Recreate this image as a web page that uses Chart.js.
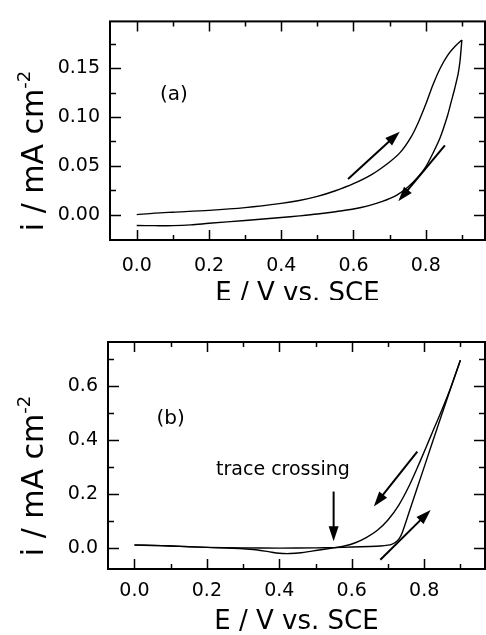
<!DOCTYPE html>
<html>
<head>
<meta charset="utf-8">
<script src="https://cdn.jsdelivr.net/npm/chart.js@4.4.1/dist/chart.umd.min.js"></script>
<style>
  html, body { margin: 0; padding: 0; background: #fff; }
  #wrapA { position: absolute; left: 0; top: 0; width: 486px; height: 300px; }
  #wrapB { position: absolute; left: 0; top: 310px; width: 486px; height: 325px; }
</style>
</head>
<body>
<div id="wrapA"><canvas id="cvA"></canvas></div>
<div id="wrapB"><canvas id="cvB"></canvas></div>
<script>
// ---- Panel (a): cyclic voltammogram, E in V vs. SCE, i in mA cm^-2 ----
const aForwardE = [0, 0.05, 0.1, 0.2, 0.3, 0.4, 0.45, 0.5, 0.55, 0.6, 0.65, 0.7, 0.73, 0.76, 0.78, 0.8, 0.82, 0.84, 0.86, 0.88, 0.9];
const aForwardI = [0, 0.0015, 0.0025, 0.0044, 0.0072, 0.0115, 0.0145, 0.0187, 0.0245, 0.0317, 0.041, 0.054, 0.064, 0.08, 0.095, 0.113, 0.133, 0.150, 0.163, 0.172, 0.179];
const aReverseE = [0.9, 0.895, 0.89, 0.88, 0.87, 0.86, 0.84, 0.82, 0.8, 0.78, 0.75, 0.72, 0.68, 0.64, 0.6, 0.55, 0.5, 0.45, 0.4, 0.3, 0.2, 0.15, 0.1, 0.05, 0];
const aReverseI = [0.179, 0.158, 0.145, 0.129, 0.115, 0.101, 0.079, 0.063, 0.049, 0.039, 0.028, 0.020, 0.0135, 0.009, 0.0058, 0.003, 0.0006, -0.0013, -0.003, -0.006, -0.0089, -0.0105, -0.0113, -0.0113, -0.0112];
// scan-direction arrows: [E start, i start, E end, i end]
const aArrows = [[0.585, 0.0366, 0.728, 0.085], [0.853, 0.071, 0.724, 0.0136]];
const aXTicks = [0.0, 0.2, 0.4, 0.6, 0.8];
const aXMinor = [0.1, 0.3, 0.5, 0.7, 0.9];
const aYTicks = [0.00, 0.05, 0.10, 0.15];
const aYMinor = [0.025, 0.075, 0.125, 0.175];

// ---- Panel (b) ----
const bForwardE = [0, 0.05, 0.1, 0.15, 0.2, 0.3, 0.4, 0.5, 0.55, 0.6, 0.65, 0.68, 0.7, 0.71, 0.72, 0.73, 0.74, 0.76, 0.8, 0.85, 0.9];
const bForwardI = [0.012, 0.011, 0.009, 0.006, 0.004, 0.002, 0.001, 0.002, 0.003, 0.005, 0.007, 0.009, 0.012, 0.015, 0.022, 0.034, 0.06, 0.14, 0.30, 0.50, 0.695];
const bReverseE = [0.9, 0.875, 0.85, 0.82, 0.79, 0.76, 0.73, 0.7, 0.67, 0.64, 0.61, 0.58, 0.55, 0.52, 0.49, 0.46, 0.43, 0.4, 0.37, 0.34, 0.3, 0.2, 0.1, 0];
const bReverseI = [0.695, 0.6, 0.515, 0.42, 0.325, 0.235, 0.16, 0.105, 0.066, 0.04, 0.021, 0.009, 0.002, -0.004, -0.010, -0.016, -0.019, -0.018, -0.012, -0.006, -0.001, 0.004, 0.009, 0.013];
const bArrows = [[0.781, 0.357, 0.661, 0.155], [0.679, -0.042, 0.818, 0.142], [0.55, 0.21, 0.55, 0.026]];
const bXTicks = [0.0, 0.2, 0.4, 0.6, 0.8];
const bXMinor = [0.1, 0.3, 0.5, 0.7, 0.9];
const bYTicks = [0.0, 0.2, 0.4, 0.6];
const bYMinor = [0.1, 0.3, 0.5, 0.7];

const FONT = "'DejaVu Sans', 'Liberation Sans', sans-serif";

function zip(xs, ys) { return xs.map((x, k) => ({ x: x, y: ys[k] })); }

// Frame, inward ticks, arrows, panel text and axis titles
const decorPlugin = {
  id: 'decor',
  afterDatasetsDraw(chart, args, o) {
    const { ctx, chartArea: ca } = chart;
    const xs = chart.scales.x, ys = chart.scales.y;
    ctx.save();
    ctx.strokeStyle = '#000';
    ctx.fillStyle = '#000';
    // frame
    ctx.lineWidth = 2;
    ctx.strokeRect(ca.left, ca.top, ca.right - ca.left, ca.bottom - ca.top);
    // ticks on all four sides, pointing inward
    ctx.lineWidth = 1.5;
    const tickX = (vals, len) => vals.forEach(v => {
      const px = Math.round(xs.getPixelForValue(v)) + 0.5;
      if (px < ca.left || px > ca.right) return;
      ctx.beginPath();
      ctx.moveTo(px, ca.bottom); ctx.lineTo(px, ca.bottom - len);
      ctx.moveTo(px, ca.top); ctx.lineTo(px, ca.top + len);
      ctx.stroke();
    });
    const tickY = (vals, len) => vals.forEach(v => {
      const py = Math.round(ys.getPixelForValue(v)) + 0.5;
      if (py < ca.top || py > ca.bottom) return;
      ctx.beginPath();
      ctx.moveTo(ca.left, py); ctx.lineTo(ca.left + len, py);
      ctx.moveTo(ca.right, py); ctx.lineTo(ca.right - len, py);
      ctx.stroke();
    });
    tickX(o.xMajor, 10); tickX(o.xMinor, 5);
    tickY(o.yMajor, 11); tickY(o.yMinor, 6);
    // arrows
    ctx.lineWidth = 2;
    o.arrows.forEach(a => {
      const x0 = xs.getPixelForValue(a[0]), y0 = ys.getPixelForValue(a[1]);
      const x1 = xs.getPixelForValue(a[2]), y1 = ys.getPixelForValue(a[3]);
      const ang = Math.atan2(y1 - y0, x1 - x0);
      const hl = 15, hw = 5;
      const bx = x1 - hl * Math.cos(ang), by = y1 - hl * Math.sin(ang);
      ctx.beginPath();
      ctx.moveTo(x0, y0); ctx.lineTo(bx + 2 * Math.cos(ang), by + 2 * Math.sin(ang));
      ctx.stroke();
      ctx.beginPath();
      ctx.moveTo(x1, y1);
      ctx.lineTo(bx + hw * Math.sin(ang), by - hw * Math.cos(ang));
      ctx.lineTo(bx - hw * Math.sin(ang), by + hw * Math.cos(ang));
      ctx.closePath();
      ctx.fill();
    });
    // text placed at data coordinates
    ctx.textAlign = 'center';
    ctx.textBaseline = 'middle';
    o.notes.forEach(n => {
      ctx.font = n.size + 'px ' + FONT;
      ctx.fillText(n.text, xs.getPixelForValue(n.x), ys.getPixelForValue(n.y));
    });
    // x-axis title
    ctx.textBaseline = 'alphabetic';
    ctx.font = o.titleSize + 'px ' + FONT;
    ctx.fillText('E / V vs. SCE', (ca.left + ca.right) / 2, o.xTitleBase);
    // y-axis title with superscript
    const main = 'i / mA cm', sup = '-2';
    const supSize = Math.round(o.yTitleSize * 0.6);
    ctx.font = o.yTitleSize + 'px ' + FONT;
    const wMain = ctx.measureText(main).width;
    ctx.font = supSize + 'px ' + FONT;
    const wSup = ctx.measureText(sup).width;
    const total = wMain + wSup;
    ctx.translate(o.yTitleBase, o.yTitleCenter);
    ctx.rotate(-Math.PI / 2);
    ctx.textAlign = 'left';
    ctx.font = o.yTitleSize + 'px ' + FONT;
    ctx.fillText(main, -total / 2, 0);
    ctx.font = supSize + 'px ' + FONT;
    ctx.fillText(sup, -total / 2 + wMain, -o.yTitleSize * 0.42);
    ctx.restore();
  }
};

function makePanel(id, p) {
  const line = (pts) => ({
    data: pts, showLine: true, borderColor: '#000', borderWidth: 1.4,
    pointRadius: 0, tension: 0.3, fill: false
  });
  return new Chart(document.getElementById(id), {
    type: 'scatter',
    data: { datasets: [line(zip(p.fE, p.fI)), line(zip(p.rE, p.rI))] },
    options: {
      responsive: true, maintainAspectRatio: false, animation: false,
      devicePixelRatio: 1,
      layout: { padding: { top: p.padTop, right: 1, left: 0, bottom: 0 } },
      plugins: {
        legend: { display: false }, tooltip: { enabled: false },
        decor: {
          xMajor: p.xTicks, xMinor: p.xMinor, yMajor: p.yTicks, yMinor: p.yMinor,
          arrows: p.arrows, notes: p.notes,
          titleSize: 26, xTitleBase: p.xTitleBase,
          yTitleSize: 30, yTitleBase: 43, yTitleCenter: p.yTitleCenter
        }
      },
      scales: {
        x: {
          type: 'linear', min: p.xMin, max: p.xMax,
          afterFit(s) { s.height = p.xH; },
          afterBuildTicks(s) { s.ticks = p.xTicks.map(v => ({ value: v })); },
          ticks: { callback: v => v.toFixed(1), font: { family: FONT, size: 19 }, color: '#000', padding: p.xPad, maxRotation: 0, autoSkip: false },
          grid: { display: false, drawTicks: false }, border: { display: false }
        },
        y: {
          type: 'linear', min: p.yMin, max: p.yMax,
          afterFit(s) { s.width = p.yW; },
          afterBuildTicks(s) { s.ticks = p.yTicks.map(v => ({ value: v })); },
          ticks: { callback: v => v.toFixed(p.yDec), font: { family: FONT, size: 19 }, color: '#000', padding: 10, autoSkip: false },
          grid: { display: false, drawTicks: false }, border: { display: false }
        }
      }
    },
    plugins: [decorPlugin]
  });
}

makePanel('cvA', {
  fE: aForwardE, fI: aForwardI, rE: aReverseE, rI: aReverseI,
  arrows: aArrows, xTicks: aXTicks, xMinor: aXMinor, yTicks: aYTicks, yMinor: aYMinor,
  notes: [{ text: '(a)', x: 0.103, y: 0.1225, size: 20 }],
  xMin: -0.074, xMax: 0.964, yMin: -0.026, yMax: 0.198, yDec: 2,
  padTop: 14, xH: 60, yW: 110, xPad: 15,
  xTitleBase: 301, yTitleCenter: 151
});

makePanel('cvB', {
  fE: bForwardE, fI: bForwardI, rE: bReverseE, rI: bReverseI,
  arrows: bArrows, xTicks: bXTicks, xMinor: bXMinor, yTicks: bYTicks, yMinor: bYMinor,
  notes: [{ text: '(b)', x: 0.1, y: 0.478, size: 20 }, { text: 'trace crossing', x: 0.41, y: 0.29, size: 19 }],
  xMin: -0.073, xMax: 0.968, yMin: -0.076, yMax: 0.762, yDec: 1,
  padTop: 32, xH: 66, yW: 108, xPad: 11,
  xTitleBase: 319, yTitleCenter: 166
});
</script>
</body>
</html>
